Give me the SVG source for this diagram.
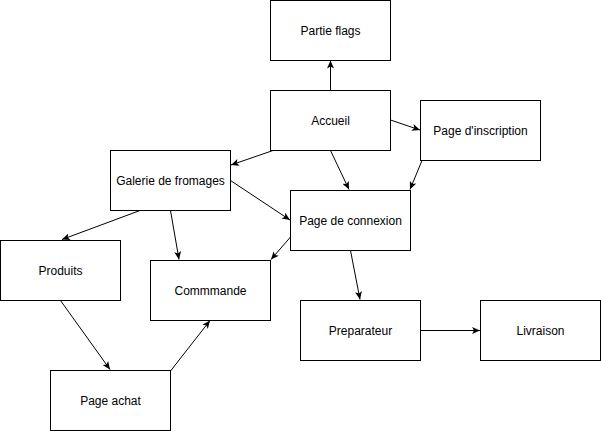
<svg xmlns="http://www.w3.org/2000/svg" width="601" height="431" viewBox="0 0 601 431">
<style>
.box{fill:#fff;stroke:#000;stroke-width:1}
.lbl{font-family:"Liberation Sans",Arial,sans-serif;font-size:12px;fill:#000;text-anchor:middle;dominant-baseline:central}
.edge{stroke:#000;stroke-width:1;fill:none;marker-end:url(#arr)}
</style>
<defs>
<marker id="arr" viewBox="0 0 8 7" refX="8" refY="3.5" markerWidth="8" markerHeight="7" markerUnits="userSpaceOnUse" orient="auto">
<path d="M0,0 L8,3.5 L0,7 L2,3.5 Z" fill="#000"/>
</marker>
</defs>
<rect width="601" height="431" fill="#fff"/>
<g id="connectors">
<line class="edge" x1="330.5" y1="90" x2="330.5" y2="60.5"/>
<line class="edge" x1="390.5" y1="120" x2="420" y2="130"/>
<line class="edge" x1="273" y1="150.5" x2="231" y2="165"/>
<line class="edge" x1="330.5" y1="150.5" x2="349" y2="189.5"/>
<line class="edge" x1="422" y1="160.5" x2="410" y2="189.5"/>
<line class="edge" x1="230.5" y1="180.5" x2="290" y2="220"/>
<line class="edge" x1="170.5" y1="210.5" x2="179" y2="259.5"/>
<line class="edge" x1="140" y1="210.5" x2="62" y2="239.5"/>
<line class="edge" x1="290.5" y1="237" x2="271" y2="259.5"/>
<line class="edge" x1="350.5" y1="250.5" x2="360" y2="299.5"/>
<line class="edge" x1="420.5" y1="330.5" x2="480" y2="330.5"/>
<line class="edge" x1="60.5" y1="300.5" x2="110" y2="369.5"/>
<line class="edge" x1="170.5" y1="371" x2="210" y2="320.5"/>
</g>
<g id="partie-flags"><rect class="box" x="270.5" y="0.5" width="120" height="60"/><text class="lbl" x="330.5" y="30.5">Partie flags</text></g>
<g id="accueil"><rect class="box" x="270.5" y="90.5" width="120" height="60"/><text class="lbl" x="330.5" y="120.5">Accueil</text></g>
<g id="page-inscription"><rect class="box" x="420.5" y="100.5" width="120" height="60"/><text class="lbl" x="480.5" y="130.5">Page d'inscription</text></g>
<g id="galerie"><rect class="box" x="110.5" y="150.5" width="120" height="60"/><text class="lbl" x="170.5" y="180.5">Galerie de fromages</text></g>
<g id="page-connexion"><rect class="box" x="290.5" y="190.5" width="120" height="60"/><text class="lbl" x="350.5" y="220.5">Page de connexion</text></g>
<g id="produits"><rect class="box" x="0.5" y="240.5" width="120" height="60"/><text class="lbl" x="60.5" y="270.5">Produits</text></g>
<g id="commande"><rect class="box" x="150.5" y="260.5" width="120" height="60"/><text class="lbl" x="210.5" y="290.5">Commmande</text></g>
<g id="preparateur"><rect class="box" x="300.5" y="300.5" width="120" height="60"/><text class="lbl" x="360.5" y="330.5">Preparateur</text></g>
<g id="livraison"><rect class="box" x="480.5" y="300.5" width="120" height="60"/><text class="lbl" x="540.5" y="330.5">Livraison</text></g>
<g id="page-achat"><rect class="box" x="50.5" y="370.5" width="120" height="60"/><text class="lbl" x="110.5" y="400.5">Page achat</text></g>
</svg>
